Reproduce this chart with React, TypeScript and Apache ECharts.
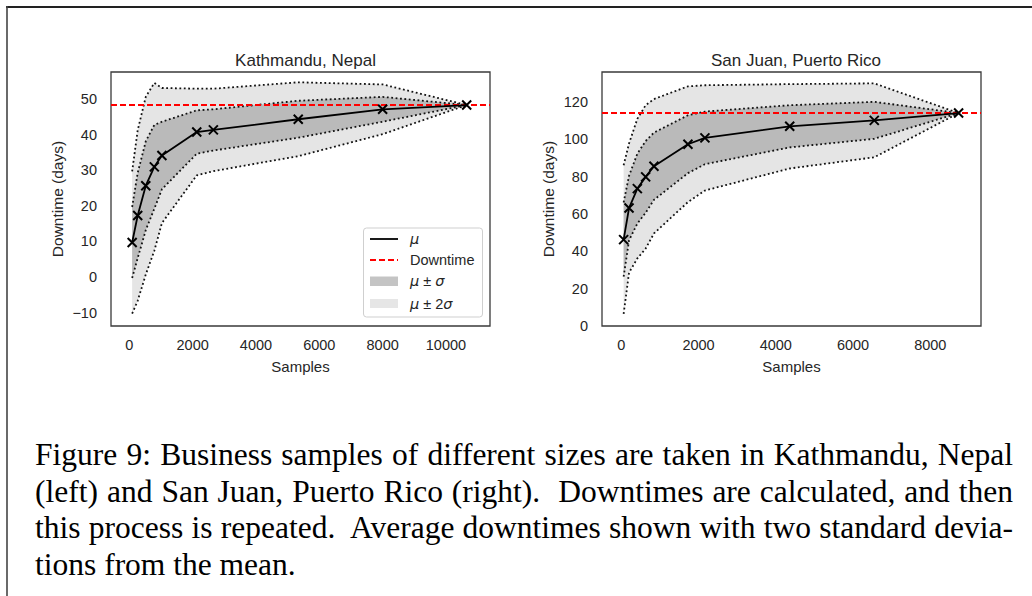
import React, { useEffect, useRef } from 'react';
import * as echarts from 'echarts';

// ---------- Kathmandu, Nepal ----------
const KTM_SAMPLES = [90, 265, 520, 790, 1030, 2130, 2655, 5335, 8000, 10655];
const KTM_MEAN = [9.7, 17.3, 25.7, 31.0, 34.2, 40.8, 41.4, 44.4, 47.2, 48.4];
const KTM_UP2 = [29.7, 41.3, 50.7, 54.6, 53.2, 53.0, 53.0, 54.8, 54.2, 48.4];
const KTM_UP1 = [19.7, 29.3, 38.2, 42.8, 43.7, 46.9, 47.2, 49.6, 50.7, 48.4];
const KTM_LO1 = [-0.3, 5.3, 13.2, 19.2, 24.7, 34.7, 35.6, 39.2, 43.7, 48.4];
const KTM_LO2 = [-10.3, -6.7, 0.7, 7.4, 15.2, 28.6, 29.8, 34.0, 40.2, 48.4];
const KTM_DOWNTIME = 48.4;
const KTM_X_TICKS = [0, 2000, 4000, 6000, 8000, 10000];
const KTM_Y_TICKS = [-10, 0, 10, 20, 30, 40, 50];

// ---------- San Juan, Puerto Rico ----------
const SJU_SAMPLES = [60, 200, 415, 630, 845, 1725, 2165, 4360, 6550, 8733];
const SJU_MEAN = [46.3, 63.2, 73.6, 79.9, 85.6, 97.4, 100.8, 107.0, 110.2, 114.1];
const SJU_UP2 = [86.1, 97.8, 111.0, 118.3, 121.6, 128.4, 129.0, 129.6, 130.0, 114.1];
const SJU_UP1 = [66.2, 80.5, 92.3, 99.1, 103.6, 112.9, 114.9, 118.3, 120.1, 114.1];
const SJU_LO1 = [26.4, 45.9, 54.9, 60.7, 67.6, 81.9, 86.7, 95.7, 100.3, 114.1];
const SJU_LO2 = [6.5, 28.6, 36.2, 41.5, 49.6, 66.4, 72.6, 84.4, 90.4, 114.1];
const SJU_DOWNTIME = 114.1;
const SJU_X_TICKS = [0, 2000, 4000, 6000, 8000];
const SJU_Y_TICKS = [0, 20, 40, 60, 80, 100, 120];

const TITLES = ['Kathmandu, Nepal', 'San Juan, Puerto Rico'];
const X_NAME = 'Samples';
const Y_NAME = 'Downtime (days)';
const LEGEND_LABELS = ['μ', 'Downtime', 'μ ± σ', 'μ ± 2σ'];

const CAPTION_LINES = [
  'Figure 9: Business samples of different sizes are taken in Kathmandu, Nepal',
  '(left) and San Juan, Puerto Rico (right).  Downtimes are calculated, and then',
  'this process is repeated.  Average downtimes shown with two standard devia-',
  'tions from the mean.',
];

const SANS = 'Liberation Sans, Arial, sans-serif';
const DARK = '#bababa';
const LIGHT = '#e5e5e5';
const XMARK = 'path://M0,0L10,10M10,0L0,10';

function bandSeries(idx: number, xs: number[], hi: number[], lo: number[], color: string, z: number) {
  return {
    type: 'custom',
    xAxisIndex: idx,
    yAxisIndex: idx,
    silent: true,
    z,
    data: [[xs[0], hi[0]]],
    renderItem: (_params: any, api: any) => {
      const pts: number[][] = [];
      for (let i = 0; i < xs.length; i++) pts.push(api.coord([xs[i], hi[i]]));
      for (let i = xs.length - 1; i >= 0; i--) pts.push(api.coord([xs[i], lo[i]]));
      return { type: 'polygon', shape: { points: pts }, style: { fill: color, stroke: 'none' } };
    },
  };
}

function dottedSeries(idx: number, xs: number[], ys: number[]) {
  return {
    type: 'line',
    xAxisIndex: idx,
    yAxisIndex: idx,
    silent: true,
    z: 3,
    symbol: 'none',
    data: xs.map((x, i) => [x, ys[i]]),
    lineStyle: { color: '#111', width: 1.8, type: [1.8, 2.6], cap: 'butt' },
  };
}

function panelSeries(idx: number, xs: number[], mean: number[], up2: number[], up1: number[], lo1: number[], lo2: number[], downtime: number, xmin: number, xmax: number) {
  return [
    bandSeries(idx, xs, up2, lo2, LIGHT, 1),
    bandSeries(idx, xs, up1, lo1, DARK, 2),
    dottedSeries(idx, xs, up2),
    dottedSeries(idx, xs, up1),
    dottedSeries(idx, xs, lo1),
    dottedSeries(idx, xs, lo2),
    {
      type: 'line',
      xAxisIndex: idx,
      yAxisIndex: idx,
      silent: true,
      z: 4,
      symbol: 'none',
      data: [[xmin, downtime], [xmax, downtime]],
      lineStyle: { color: '#ff0000', width: 2, type: [6, 3] },
    },
    {
      type: 'line',
      xAxisIndex: idx,
      yAxisIndex: idx,
      silent: true,
      z: 5,
      symbol: XMARK,
      symbolSize: 9,
      showAllSymbol: true,
      data: xs.map((x, i) => [x, mean[i]]),
      lineStyle: { color: '#000', width: 1.8 },
      itemStyle: { color: '#000', borderColor: '#000', borderWidth: 2 },
    },
  ];
}

function xAxis(idx: number, min: number, max: number, ticks: number[]) {
  return {
    type: 'value',
    gridIndex: idx,
    min,
    max,
    name: X_NAME,
    nameLocation: 'middle',
    nameGap: 33,
    nameTextStyle: { fontFamily: SANS, fontSize: 15, color: '#262626' },
    axisLine: { show: false },
    axisTick: { show: false },
    splitLine: { show: false },
    axisLabel: {
      customValues: ticks,
      margin: 11,
      fontFamily: SANS,
      fontSize: 14.5,
      color: '#262626',
      formatter: (v: number) => String(v),
    },
  };
}

function yAxis(idx: number, min: number, max: number, ticks: number[]) {
  return {
    type: 'value',
    gridIndex: idx,
    min,
    max,
    name: Y_NAME,
    nameLocation: 'middle',
    nameGap: 46,
    nameTextStyle: { fontFamily: SANS, fontSize: 15.5, color: '#262626' },
    axisLine: { show: false },
    axisTick: { show: false },
    splitLine: { show: false },
    axisLabel: {
      customValues: ticks,
      margin: 14,
      fontFamily: SANS,
      fontSize: 14.5,
      color: '#262626',
      formatter: (v: number) => (v < 0 ? '\u2212' + Math.abs(v) : String(v)),
    },
  };
}

function legendGraphic() {
  const lx = 370;
  const tx = 410;
  const font = { fontFamily: SANS, fontSize: 14.5, fill: '#262626' };
  const rich = { i: { fontStyle: 'italic', fontFamily: 'DejaVu Sans', fontSize: 14.5 } };
  return [
    { type: 'rect', shape: { x: 363.5, y: 228, width: 119, height: 89, r: 3 }, style: { fill: 'rgba(255,255,255,0.85)', stroke: '#cfcfcf', lineWidth: 1 }, z: 10 },
    { type: 'line', shape: { x1: lx, y1: 239, x2: lx + 28, y2: 239 }, style: { stroke: '#000', lineWidth: 1.8 }, z: 11 },
    { type: 'text', x: tx, y: 239, style: { ...font, text: '{i|μ}', rich, textVerticalAlign: 'middle' }, z: 11 },
    { type: 'line', shape: { x1: lx, y1: 260, x2: lx + 28, y2: 260 }, style: { stroke: '#ff0000', lineWidth: 2, lineDash: [6, 3] }, z: 11 },
    { type: 'text', x: tx, y: 260, style: { ...font, text: LEGEND_LABELS[1], textVerticalAlign: 'middle' }, z: 11 },
    { type: 'rect', shape: { x: lx, y: 276.5, width: 28, height: 9.5 }, style: { fill: '#c4c4c4' }, z: 11 },
    { type: 'text', x: tx, y: 281, style: { ...font, text: '{i|μ} ± {i|σ}', rich, textVerticalAlign: 'middle' }, z: 11 },
    { type: 'rect', shape: { x: lx, y: 299, width: 28, height: 9 }, style: { fill: '#e6e6e6' }, z: 11 },
    { type: 'text', x: tx, y: 303.5, style: { ...font, text: '{i|μ} ± 2{i|σ}', rich, textVerticalAlign: 'middle' }, z: 11 },
  ];
}

export default function App() {
  const ref = useRef<HTMLDivElement>(null);

  useEffect(() => {
    if (!ref.current) return;
    const chart = echarts.init(ref.current, undefined, { renderer: 'svg', width: 1032, height: 596 });
    const kX: [number, number] = [-578, 11391];
    const kY: [number, number] = [-13.8, 57.7];
    const sX: [number, number] = [-500, 9313];
    const sY: [number, number] = [0, 136.1];
    const titleStyle = { fontFamily: SANS, fontSize: 17, fontWeight: 'normal', color: '#262626' };
    chart.setOption({
      animation: false,
      backgroundColor: '#ffffff',
      title: [
        { text: TITLES[0], left: 300.5, top: 47, textAlign: 'center', textStyle: titleStyle },
        { text: TITLES[1], left: 791, top: 47, textAlign: 'center', textStyle: titleStyle },
      ],
      grid: [
        { left: 111, top: 72, width: 379, height: 254, show: true, borderColor: '#3a3a3a', borderWidth: 1.3, backgroundColor: 'transparent' },
        { left: 602, top: 72, width: 379, height: 254, show: true, borderColor: '#3a3a3a', borderWidth: 1.3, backgroundColor: 'transparent' },
      ],
      xAxis: [xAxis(0, kX[0], kX[1], KTM_X_TICKS), xAxis(1, sX[0], sX[1], SJU_X_TICKS)],
      yAxis: [yAxis(0, kY[0], kY[1], KTM_Y_TICKS), yAxis(1, sY[0], sY[1], SJU_Y_TICKS)],
      series: [
        ...panelSeries(0, KTM_SAMPLES, KTM_MEAN, KTM_UP2, KTM_UP1, KTM_LO1, KTM_LO2, KTM_DOWNTIME, kX[0], kX[1]),
        ...panelSeries(1, SJU_SAMPLES, SJU_MEAN, SJU_UP2, SJU_UP1, SJU_LO1, SJU_LO2, SJU_DOWNTIME, sX[0], sX[1]),
      ],
      graphic: [
        { type: 'line', shape: { x1: 6, y1: 7, x2: 1032, y2: 7 }, style: { stroke: '#222', lineWidth: 1.8 } },
        { type: 'line', shape: { x1: 7, y1: 6, x2: 7, y2: 596 }, style: { stroke: '#444', lineWidth: 1.6 } },
        ...legendGraphic(),
      ],
    });
    return () => chart.dispose();
  }, []);

  return (
    <div style={{ position: 'absolute', left: 0, top: 0, width: 1032, height: 596, background: '#fff' }}>
      <div ref={ref} style={{ position: 'absolute', left: 0, top: 0, width: 1032, height: 596 }} />
      <div
        style={{
          position: 'absolute',
          left: 35,
          top: 437,
          width: 978,
          fontFamily: '"Liberation Serif", "Times New Roman", serif',
          fontSize: 31.5,
          lineHeight: '36.5px',
          color: '#000',
        }}
      >
        {CAPTION_LINES.map((line, i) => (
          <div
            key={i}
            style={{
              whiteSpace: 'pre',
              textAlign: i < CAPTION_LINES.length - 1 ? 'justify' : 'left',
              textAlignLast: i < CAPTION_LINES.length - 1 ? 'justify' : 'left',
            }}
          >
            {line}
          </div>
        ))}
      </div>
    </div>
  );
}
